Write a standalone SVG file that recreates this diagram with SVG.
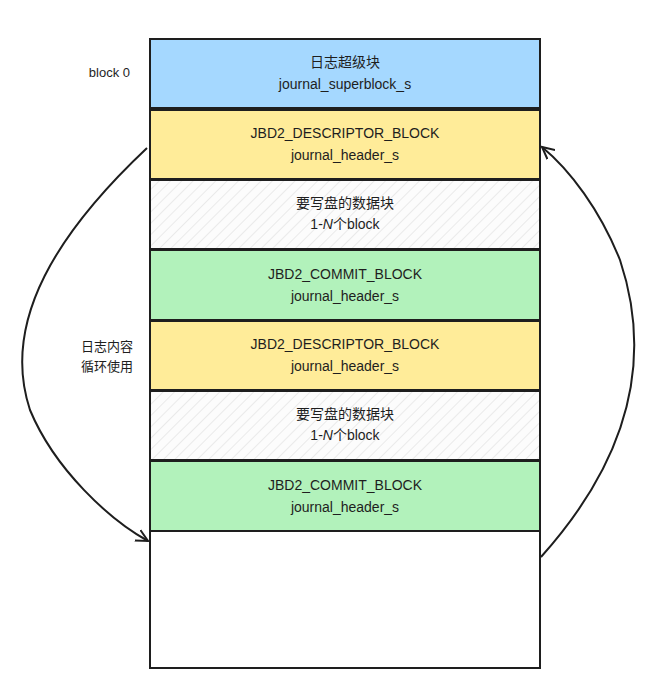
<svg xmlns="http://www.w3.org/2000/svg" width="653" height="695" viewBox="0 0 653 695">
<defs>
<pattern id="hatch" width="8" height="8" patternUnits="userSpaceOnUse" patternTransform="rotate(45)">
<rect width="8" height="8" fill="#fcfcfc"/>
<line x1="0" y1="0" x2="0" y2="8" stroke="#d8d8d8" stroke-width="1"/>
</pattern>
<marker id="arr" markerWidth="14" markerHeight="14" refX="12" refY="7" orient="auto" markerUnits="userSpaceOnUse">
<path d="M0,1 L12,7 L0,13" fill="none" stroke="#1e1e1e" stroke-width="2"/>
</marker>
<style>
.b{stroke:#1e1e1e;stroke-width:2}
.t{font-family:"Comic Sans MS","Liberation Sans","Noto Sans CJK SC",sans-serif;font-size:14px;fill:#1e1e1e;text-anchor:middle}
.l{font-family:"Liberation Sans","Noto Sans CJK SC",sans-serif;font-size:13px;fill:#1e1e1e;text-anchor:end}
</style>
</defs>
<rect width="653" height="695" fill="#fff"/>
<g id="n0"><rect class="b" x="150" y="39" width="390" height="69" fill="#a5d8ff"/><text class="t" x="345" y="67">日志超级块</text><text class="t" x="345" y="89">journal_superblock_s</text></g>
<g id="n1"><rect class="b" x="150" y="110" width="390" height="69" fill="#ffec99"/><text class="t" x="345" y="138">JBD2_DESCRIPTOR_BLOCK</text><text class="t" x="345" y="160">journal_header_s</text></g>
<g id="n2"><rect class="b" x="150" y="180" width="390" height="69" fill="url(#hatch)"/><text class="t" x="345" y="208">要写盘的数据块</text><text class="t" x="345" y="229">1-<tspan font-style="italic">N</tspan>个block</text></g>
<g id="n3"><rect class="b" x="150" y="250" width="390" height="70" fill="#b2f2bb"/><text class="t" x="345" y="279">JBD2_COMMIT_BLOCK</text><text class="t" x="345" y="301">journal_header_s</text></g>
<g id="n4"><rect class="b" x="150" y="321" width="390" height="69" fill="#ffec99"/><text class="t" x="345" y="349">JBD2_DESCRIPTOR_BLOCK</text><text class="t" x="345" y="371">journal_header_s</text></g>
<g id="n5"><rect class="b" x="150" y="391" width="390" height="69" fill="url(#hatch)"/><text class="t" x="345" y="419">要写盘的数据块</text><text class="t" x="345" y="440">1-<tspan font-style="italic">N</tspan>个block</text></g>
<g id="n6"><rect class="b" x="150" y="461" width="390" height="70" fill="#b2f2bb"/><text class="t" x="345" y="490">JBD2_COMMIT_BLOCK</text><text class="t" x="345" y="512">journal_header_s</text></g>
<g id="n7"><rect class="b" x="150" y="531" width="390" height="137" fill="#fff"/></g>
<text class="l" x="130" y="77">block 0</text>
<text class="l" x="133" y="351">日志内容</text>
<text class="l" x="133" y="371">循环使用</text>
<g id="connectors" fill="none" stroke="#1e1e1e" stroke-width="2">
<path d="M147,148 C60,230 0,320 30,410 C55,470 110,520 148,541" marker-end="url(#arr)"/>
<path d="M541,557 C610,480 660,380 620,260 C600,210 570,170 542,147" marker-end="url(#arr)"/>
</g>
</svg>
